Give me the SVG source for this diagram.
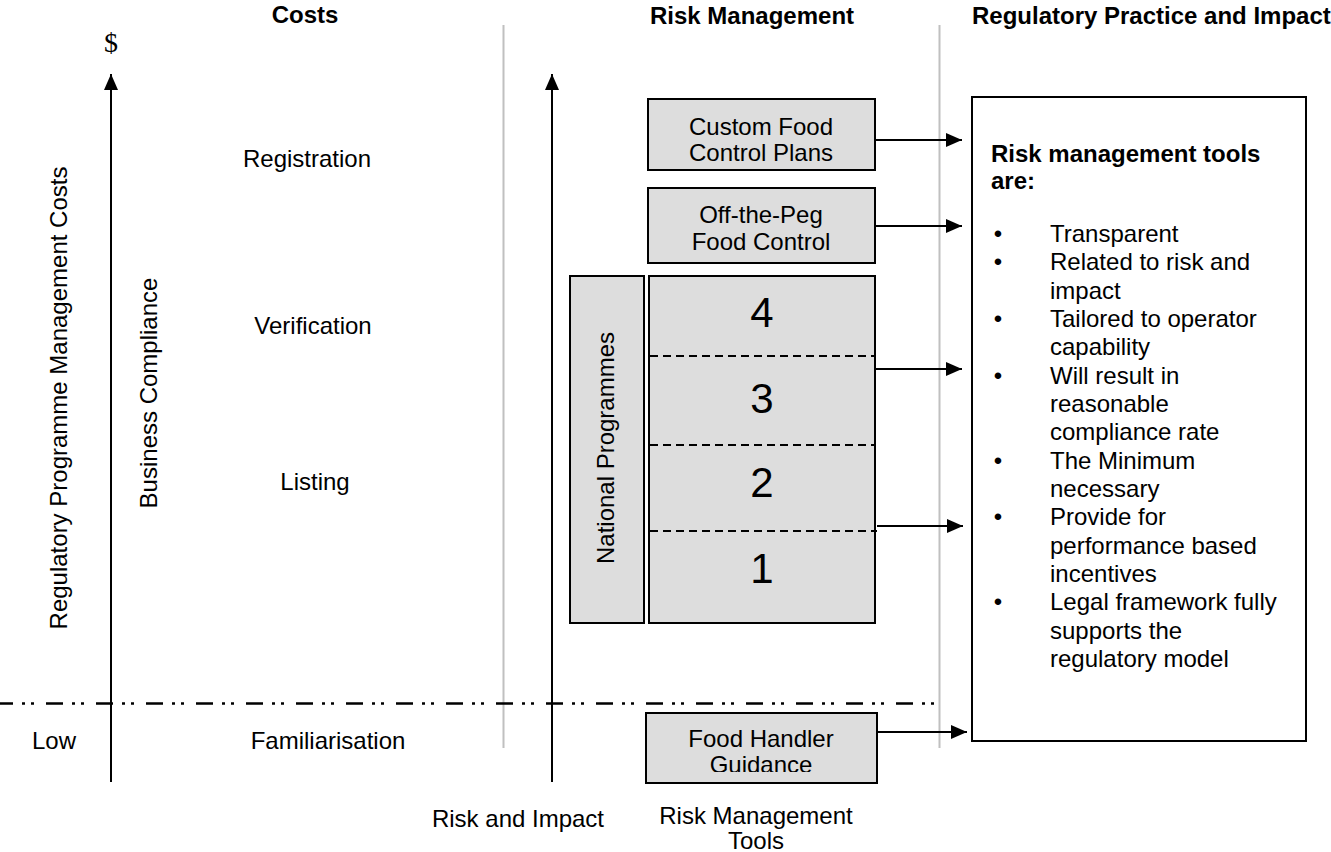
<svg xmlns="http://www.w3.org/2000/svg" width="1331" height="852" viewBox="0 0 1331 852">
<style>
text{font-family:"Liberation Sans",Arial,sans-serif;font-size:24px;fill:#000}
.b{font-weight:bold}
.m{text-anchor:middle}
.num{font-size:42px;text-anchor:middle}
.box{fill:#dddddd;stroke:#000;stroke-width:2}
.sep{stroke:#c0c0c0;stroke-width:2}
.ax{stroke:#000;stroke-width:2;fill:none}
.dash{stroke:#000;stroke-width:2;stroke-dasharray:8 5}
.arr{stroke:#000;stroke-width:2;marker-end:url(#ah)}
</style>
<defs>
<marker id="ah" markerWidth="16" markerHeight="14" refX="16" refY="7" orient="auto" markerUnits="userSpaceOnUse"><path d="M0,0 L16,7 L0,14 z" fill="#000"/></marker>
<clipPath id="fhclip"><rect x="646" y="713" width="231" height="59"/></clipPath>
</defs>
<rect width="1331" height="852" fill="#fff"/>

<g id="headers">
<text class="b m" x="305" y="23">Costs</text>
<text class="b m" x="752" y="24">Risk Management</text>
<text class="b" x="972" y="24">Regulatory Practice and Impact</text>
</g>

<g id="separators">
<line class="sep" x1="503.5" y1="25" x2="503.5" y2="748"/>
<line class="sep" x1="939.5" y1="25" x2="939.5" y2="748"/>
</g>

<g id="cost-axis">
<text x="111" y="52" text-anchor="middle" style="font-family:'Liberation Serif','Times New Roman',serif;font-size:28px">$</text>
<line class="ax" x1="111" y1="782" x2="111" y2="74" marker-end="url(#ah)"/>
<text class="m" transform="translate(67,398) rotate(-90)">Regulatory Programme Management Costs</text>
<text class="m" transform="translate(157,393) rotate(-90)">Business Compliance</text>
</g>

<g id="cost-levels">
<text class="m" x="307" y="167">Registration</text>
<text class="m" x="313" y="334">Verification</text>
<text class="m" x="315" y="490">Listing</text>
<text class="m" x="54" y="749">Low</text>
<text class="m" x="328" y="749">Familiarisation</text>
</g>

<g id="risk-axis">
<line class="ax" x1="552" y1="782" x2="552" y2="74" marker-end="url(#ah)"/>
<text class="m" x="518" y="827">Risk and Impact</text>
</g>

<g id="threshold">
<line x1="0" y1="703.5" x2="945" y2="703.5" stroke="#000" stroke-width="2.5" stroke-dasharray="17 9 3 6 3 12" stroke-dashoffset="4"/>
</g>

<g id="custom-food">
<rect class="box" x="648" y="99" width="227" height="71"/>
<text class="m" x="761" y="135">Custom Food</text>
<text class="m" x="761" y="161">Control Plans</text>
</g>

<g id="off-the-peg">
<rect class="box" x="648" y="188" width="227" height="75"/>
<text class="m" x="761" y="223">Off-the-Peg</text>
<text class="m" x="761" y="250">Food Control</text>
</g>

<g id="national-programmes">
<rect class="box" x="570" y="276" width="74" height="347"/>
<text class="m" transform="translate(613.5,448) rotate(-90)">National Programmes</text>
</g>

<g id="levels">
<rect class="box" x="649" y="276" width="226" height="347"/>
<line class="dash" x1="650" y1="356" x2="875" y2="356"/>
<line class="dash" x1="650" y1="445" x2="875" y2="445"/>
<line class="dash" x1="650" y1="531" x2="877" y2="531"/>
<text class="num" x="762" y="327">4</text>
<text class="num" x="762" y="413">3</text>
<text class="num" x="762" y="497">2</text>
<text class="num" x="762" y="583">1</text>
</g>

<g id="food-handler">
<rect class="box" x="646" y="713" width="231" height="70"/>
<text class="m" x="761" y="747">Food Handler</text>
<text class="m" x="761" y="773" clip-path="url(#fhclip)">Guidance</text>
</g>

<g id="rm-tools-label">
<text class="m" x="756" y="824">Risk Management</text>
<text class="m" x="756" y="849">Tools</text>
</g>

<g id="connectors">
<line class="arr" x1="875" y1="140" x2="962" y2="140"/>
<line class="arr" x1="875" y1="226" x2="962" y2="226"/>
<line class="arr" x1="875" y1="369" x2="962" y2="369"/>
<line class="arr" x1="877" y1="526" x2="963" y2="526"/>
<line class="arr" x1="878" y1="732" x2="967" y2="732"/>
</g>

<g id="practice-box">
<rect x="972" y="97" width="334" height="644" fill="#fff" stroke="#000" stroke-width="2"/>
<text class="b" x="991" y="162">Risk management tools</text>
<text class="b" x="991" y="189">are:</text>
<g class="m">
<text x="998" y="242">•</text>
<text x="998" y="270">•</text>
<text x="998" y="327">•</text>
<text x="998" y="384">•</text>
<text x="998" y="469">•</text>
<text x="998" y="525">•</text>
<text x="998" y="610">•</text>
</g>
<text x="1050" y="242">Transparent</text>
<text x="1050" y="270">Related to risk and</text>
<text x="1050" y="299">impact</text>
<text x="1050" y="327">Tailored to operator</text>
<text x="1050" y="355">capability</text>
<text x="1050" y="384">Will result in</text>
<text x="1050" y="412">reasonable</text>
<text x="1050" y="440">compliance rate</text>
<text x="1050" y="469">The Minimum</text>
<text x="1050" y="497">necessary</text>
<text x="1050" y="525">Provide for</text>
<text x="1050" y="554">performance based</text>
<text x="1050" y="582">incentives</text>
<text x="1050" y="610">Legal framework fully</text>
<text x="1050" y="639">supports the</text>
<text x="1050" y="667">regulatory model</text>
</g>
</svg>
